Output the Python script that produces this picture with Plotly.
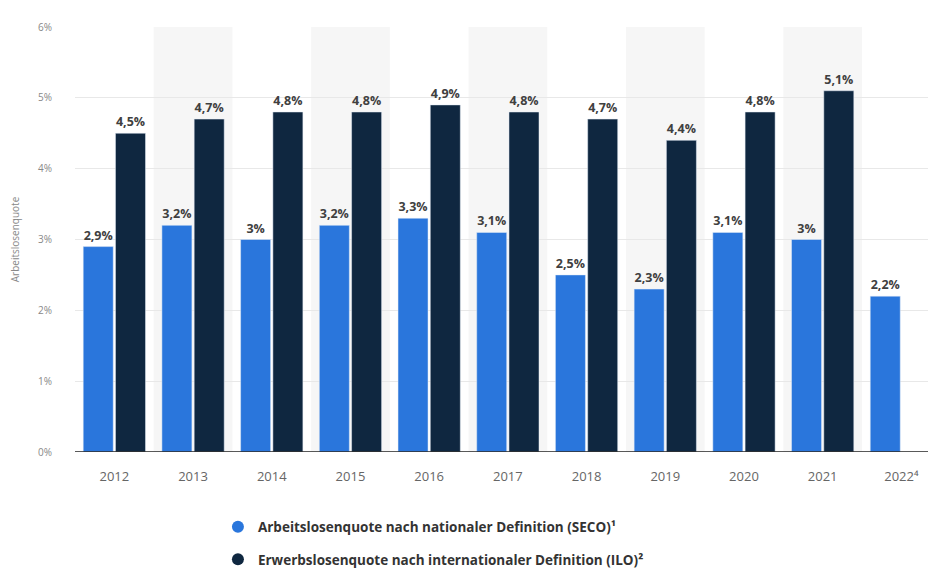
import plotly.graph_objects as go

years = ["2012", "2013", "2014", "2015", "2016", "2017", "2018", "2019", "2020", "2021", "2022"]
tick_labels = ["2012", "2013", "2014", "2015", "2016", "2017", "2018", "2019", "2020", "2021", "2022⁴"]
seco = [2.9, 3.2, 3.0, 3.2, 3.3, 3.1, 2.5, 2.3, 3.1, 3.0, 2.2]
ilo = [4.5, 4.7, 4.8, 4.8, 4.9, 4.8, 4.7, 4.4, 4.8, 5.1, None]
name_seco = "Arbeitslosenquote nach nationaler Definition (SECO)¹"
name_ilo = "Erwerbslosenquote nach internationaler Definition (ILO)²"
c_seco = "#2a76dc"
c_ilo = "#0f2740"

def fmt(v):
    if v is None:
        return ""
    s = ("%g" % v).replace(".", ",")
    return s + "%"

label_font = dict(size=12.5, color="#404040", family="Open Sans", weight="bold")

fig = go.Figure()
fig.add_bar(x=years, y=seco, marker_color=c_seco, name=name_seco, showlegend=False,
            text=[fmt(v) for v in seco], textposition="outside", cliponaxis=False,
            textfont=label_font)
fig.add_bar(x=years, y=ilo, marker_color=c_ilo, name=name_ilo, showlegend=False,
            text=[fmt(v) for v in ilo], textposition="outside", cliponaxis=False,
            textfont=label_font)
# legend entries with circle markers
for nm, col in [(name_seco, c_seco), (name_ilo, c_ilo)]:
    fig.add_scatter(x=[None], y=[None], mode="markers", name=nm, legendgroup=nm,
                    marker=dict(symbol="circle", size=14, color=col))

shapes = []
for i in range(1, len(years), 2):
    shapes.append(dict(type="rect", xref="x", yref="paper", x0=i - 0.5, x1=i + 0.5,
                       y0=0, y1=1, fillcolor="#f6f6f6", line_width=0, layer="below"))
shapes.append(dict(type="line", xref="paper", yref="y", x0=0, x1=1, y0=0, y1=0,
                   line=dict(color="#222", width=1.5)))

fig.update_layout(
    width=928, height=563,
    margin=dict(l=67, r=0, t=19, b=119, autoexpand=False),
    paper_bgcolor="white", plot_bgcolor="white",
    barmode="group", bargap=0.18, bargroupgap=0.07,
    shapes=shapes,
    font=dict(family="Open Sans", color="#666"),
    xaxis=dict(tickmode="array", tickvals=years, ticktext=tick_labels,
               tickfont=dict(size=13, color="#666"), showgrid=False, ticks="",
               range=[-0.5, 10.44], showline=False, ticklabelstandoff=15),
    yaxis=dict(range=[0, 6], dtick=1, ticksuffix="%", tickfont=dict(size=10, color="#888"),
               gridcolor="#e8e8e8", zeroline=False, showline=False, ticklabelstandoff=22,
               title=dict(text="Arbeitslosenquote", font=dict(size=10, color="#888"), standoff=16)),
    legend=dict(orientation="v", x=0.166, xanchor="left", y=-0.14, yanchor="top",
                font=dict(size=13.5, color="#333", family="Open Sans", weight="bold"),
                itemsizing="constant", tracegroupgap=12),
)

fig.write_html("out.html")
